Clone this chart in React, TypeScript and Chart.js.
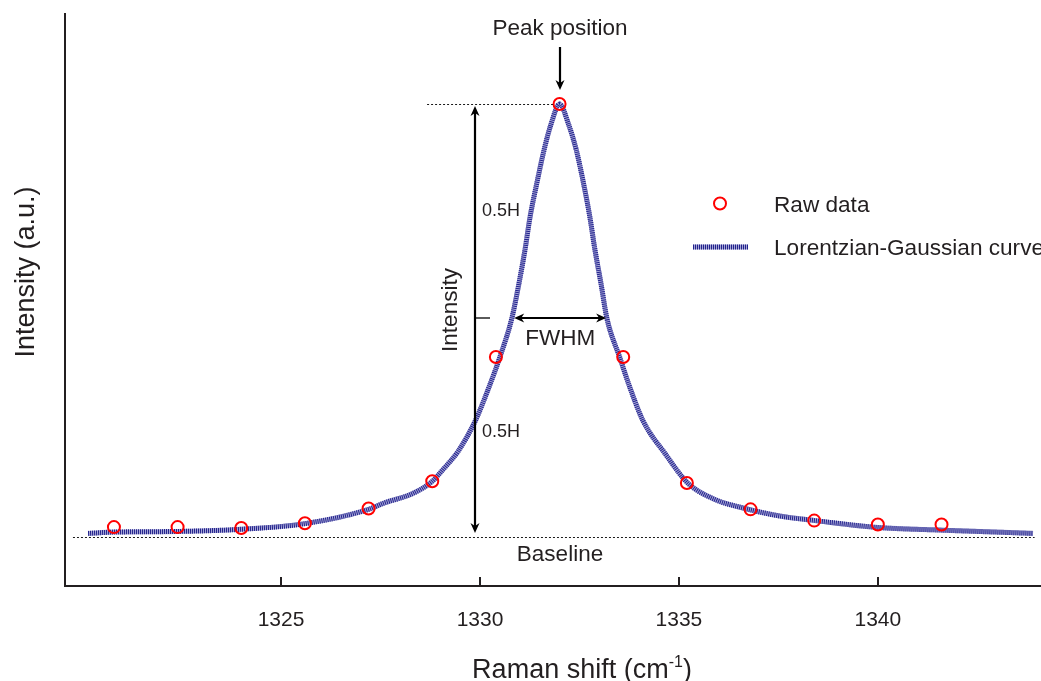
import React, { useEffect, useRef } from "react";
import { Chart, registerables } from "chart.js";

Chart.register(...registerables);

// ---- data ----
const rawX = [1320.8, 1322.4, 1324.0, 1325.6, 1327.2, 1328.8, 1330.4, 1332.0, 1333.6, 1335.2, 1336.8, 1338.4, 1340.0, 1341.6];
const rawY = [0.023, 0.023, 0.021, 0.032, 0.066, 0.129, 0.416, 1.0, 0.416, 0.125, 0.064, 0.038, 0.029, 0.029];

const curveX = [1320.15, 1320.8, 1322.4, 1324.0, 1325.6, 1327.2, 1327.57, 1328.32, 1328.79, 1329.08, 1329.45, 1329.87, 1330.25, 1330.49, 1330.8, 1330.98, 1331.13, 1331.26, 1331.43, 1331.61, 1331.79, 1332.0, 1332.22, 1332.42, 1332.6, 1332.76, 1332.89, 1333.04, 1333.19, 1333.52, 1333.75, 1334.1, 1334.65, 1335.23, 1335.95, 1336.49, 1337.54, 1338.43, 1340.02, 1341.62, 1343.9];
const curveY = [0.0085, 0.0115, 0.013, 0.018, 0.031, 0.064, 0.078, 0.101, 0.128, 0.157, 0.198, 0.266, 0.352, 0.413, 0.505, 0.586, 0.663, 0.74, 0.818, 0.894, 0.955, 1.0, 0.955, 0.894, 0.818, 0.74, 0.663, 0.586, 0.505, 0.413, 0.35, 0.268, 0.193, 0.124, 0.085, 0.07, 0.0485, 0.038, 0.022, 0.016, 0.0085];

const xTickValues = [1325, 1330, 1335, 1340];
const xTickLabels = ["1325", "1330", "1335", "1340"];

// annotation anchors (data units)
const peakX = 1332.0;
const peakY = 1.0;
const halfLevel = 0.505;
const fwhmLeftX = 1330.86;
const fwhmRightX = 1333.17;
const intensityArrowX = 1329.87;
const peakLineStartX = 1328.67;
const baselineStartX = 1319.77;
const baselineEndX = 1343.94;

const xMin = 1319.57;
const xMax = 1344.1;
const yMin = -0.113;
const yMax = 1.208;

const FONT = '"Liberation Sans", Arial, Helvetica, sans-serif';
const INK = "#231f20";
const CURVE_LIGHT = "#a6a6d6";
const CURVE_DARK = "#22228c";
const RAW_RED = "#ff0000";

function arrowHead(ctx: CanvasRenderingContext2D, tx: number, ty: number, angle: number) {
  const len = 10;
  const half = 4.5;
  ctx.save();
  ctx.translate(tx, ty);
  ctx.rotate(angle);
  ctx.beginPath();
  ctx.moveTo(0, 0);
  ctx.lineTo(-len, -half);
  ctx.lineTo(-len * 0.7, 0);
  ctx.lineTo(-len, half);
  ctx.closePath();
  ctx.fill();
  ctx.restore();
}

const annotPlugin = {
  id: "annot",
  afterDatasetsDraw(chart: any) {
    const { ctx, scales } = chart;
    const x = scales.x;
    const y = scales.y;
    ctx.save();

    // dotted lines
    ctx.strokeStyle = "#1a1a1a";
    ctx.lineWidth = 1;
    ctx.setLineDash([2, 2]);
    const yb = Math.round(y.getPixelForValue(0)) + 0.5;
    ctx.beginPath();
    ctx.moveTo(x.getPixelForValue(baselineStartX), yb);
    ctx.lineTo(x.getPixelForValue(baselineEndX), yb);
    ctx.stroke();
    const yp = Math.round(y.getPixelForValue(peakY)) + 0.5;
    ctx.beginPath();
    ctx.moveTo(x.getPixelForValue(peakLineStartX), yp);
    ctx.lineTo(x.getPixelForValue(peakX) - 5, yp);
    ctx.stroke();
    ctx.setLineDash([]);

    ctx.strokeStyle = "#000000";
    ctx.fillStyle = "#000000";
    ctx.lineWidth = 2.2;

    // peak arrow
    const px = Math.round(x.getPixelForValue(peakX));
    const pTip = y.getPixelForValue(peakY) - 14;
    ctx.beginPath();
    ctx.moveTo(px, 47);
    ctx.lineTo(px, pTip - 4);
    ctx.stroke();
    arrowHead(ctx, px, pTip, Math.PI / 2);

    // intensity double arrow
    const ix = Math.round(x.getPixelForValue(intensityArrowX));
    const iTop = y.getPixelForValue(peakY) + 2;
    const iBot = y.getPixelForValue(0) - 4;
    ctx.beginPath();
    ctx.moveTo(ix, iTop + 4);
    ctx.lineTo(ix, iBot - 4);
    ctx.stroke();
    arrowHead(ctx, ix, iTop, -Math.PI / 2);
    arrowHead(ctx, ix, iBot, Math.PI / 2);

    // half-level tick
    const hy = Math.round(y.getPixelForValue(halfLevel));
    ctx.lineWidth = 1.3;
    ctx.beginPath();
    ctx.moveTo(ix + 1, hy);
    ctx.lineTo(ix + 15, hy);
    ctx.stroke();

    // FWHM double arrow
    ctx.lineWidth = 2.2;
    const fl = x.getPixelForValue(fwhmLeftX);
    const fr = x.getPixelForValue(fwhmRightX);
    ctx.beginPath();
    ctx.moveTo(fl + 4, hy);
    ctx.lineTo(fr - 4, hy);
    ctx.stroke();
    arrowHead(ctx, fl, hy, Math.PI);
    arrowHead(ctx, fr, hy, 0);

    // inward x ticks
    ctx.strokeStyle = INK;
    ctx.lineWidth = 2;
    const ab = chart.chartArea.bottom;
    xTickValues.forEach((v) => {
      const tx = Math.round(x.getPixelForValue(v));
      ctx.beginPath();
      ctx.moveTo(tx, ab);
      ctx.lineTo(tx, ab - 9);
      ctx.stroke();
    });

    // texts
    ctx.fillStyle = INK;
    ctx.textBaseline = "alphabetic";
    ctx.font = `22.5px ${FONT}`;
    ctx.textAlign = "center";
    ctx.fillText("Peak position", px, 35);
    ctx.fillText("FWHM", (fl + fr) / 2, hy + 27);
    ctx.fillText("Baseline", px, yb + 23);

    ctx.font = `18px ${FONT}`;
    ctx.textAlign = "left";
    ctx.fillText("0.5H", ix + 7, 216);
    ctx.fillText("0.5H", ix + 7, 437);

    ctx.font = `22.5px ${FONT}`;
    ctx.save();
    ctx.translate(ix - 18, 310);
    ctx.rotate(-Math.PI / 2);
    ctx.textAlign = "center";
    ctx.fillText("Intensity", 0, 0);
    ctx.restore();

    // legend
    ctx.strokeStyle = RAW_RED;
    ctx.lineWidth = 2;
    ctx.beginPath();
    ctx.arc(720, 203.5, 6, 0, Math.PI * 2);
    ctx.stroke();
    ctx.lineWidth = 5;
    ctx.strokeStyle = CURVE_LIGHT;
    ctx.beginPath();
    ctx.moveTo(693, 247);
    ctx.lineTo(748, 247);
    ctx.stroke();
    ctx.strokeStyle = CURVE_DARK;
    ctx.setLineDash([1, 1]);
    ctx.beginPath();
    ctx.moveTo(693, 247);
    ctx.lineTo(748, 247);
    ctx.stroke();
    ctx.setLineDash([]);
    ctx.fillStyle = INK;
    ctx.font = `22.6px ${FONT}`;
    ctx.textAlign = "left";
    ctx.fillText("Raw data", 774, 212);
    ctx.fillText("Lorentzian-Gaussian curve", 774, 255);

    // axis titles
    ctx.font = `27px ${FONT}`;
    const main = "Raman shift (cm";
    const sup = "-1";
    const close = ")";
    const wMain = ctx.measureText(main).width;
    const wClose = ctx.measureText(close).width;
    ctx.font = `16px ${FONT}`;
    const wSup = ctx.measureText(sup).width;
    const total = wMain + wSup + wClose;
    let sx = 582 - total / 2;
    const by = 678;
    ctx.textAlign = "left";
    ctx.font = `27px ${FONT}`;
    ctx.fillText(main, sx, by);
    sx += wMain;
    ctx.font = `16px ${FONT}`;
    ctx.fillText(sup, sx, by - 11);
    sx += wSup;
    ctx.font = `27px ${FONT}`;
    ctx.fillText(close, sx, by);

    ctx.save();
    ctx.translate(34, 272);
    ctx.rotate(-Math.PI / 2);
    ctx.textAlign = "center";
    ctx.fillText("Intensity (a.u.)", 0, 0);
    ctx.restore();

    ctx.restore();
  },
};

export default function App() {
  const canvasRef = useRef<HTMLCanvasElement | null>(null);

  useEffect(() => {
    const canvas = canvasRef.current;
    if (!canvas) return;
    const curveData = curveX.map((v, i) => ({ x: v, y: curveY[i] }));
    const rawData = rawX.map((v, i) => ({ x: v, y: rawY[i] }));
    const chart = new Chart(canvas, {
      type: "scatter",
      data: {
        datasets: [
          {
            type: "line",
            label: "Lorentzian-Gaussian curve",
            data: curveData,
            borderColor: CURVE_LIGHT,
            borderWidth: 5,
            pointRadius: 0,
            cubicInterpolationMode: "monotone",
            fill: false,
            order: 3,
          } as any,
          {
            type: "line",
            label: "curve hatch",
            data: curveData,
            borderColor: CURVE_DARK,
            borderWidth: 5,
            borderDash: [1, 1],
            pointRadius: 0,
            cubicInterpolationMode: "monotone",
            fill: false,
            order: 2,
          } as any,
          {
            type: "scatter",
            label: "Raw data",
            data: rawData,
            pointStyle: "circle",
            pointRadius: 6,
            pointHoverRadius: 6,
            borderWidth: 2,
            borderColor: RAW_RED,
            backgroundColor: "rgba(0,0,0,0)",
            order: 1,
          } as any,
        ],
      },
      options: {
        responsive: false,
        animation: false,
        devicePixelRatio: 1,
        layout: { autoPadding: false, padding: { top: 14, right: 0, left: 0, bottom: 0 } },
        plugins: { legend: { display: false }, tooltip: { enabled: false } },
        scales: {
          x: {
            type: "linear",
            min: xMin,
            max: xMax,
            afterBuildTicks: (s: any) => {
              s.ticks = xTickValues.map((v) => ({ value: v }));
            },
            afterFit: (s: any) => {
              s.height = 95;
              s.paddingLeft = 0;
              s.paddingRight = 0;
            },
            grid: { display: false, drawTicks: false },
            border: { display: true, color: INK, width: 2 },
            ticks: {
              font: { family: FONT, size: 21 },
              color: INK,
              padding: 22,
              maxRotation: 0,
              autoSkip: false,
              callback: (v: any) => {
                const i = xTickValues.indexOf(Number(v));
                return i >= 0 ? xTickLabels[i] : "";
              },
            },
          },
          y: {
            type: "linear",
            min: yMin,
            max: yMax,
            afterFit: (s: any) => {
              s.width = 65;
              s.paddingTop = 0;
              s.paddingBottom = 0;
            },
            grid: { display: false, drawTicks: false },
            border: { display: true, color: INK, width: 2 },
            ticks: { display: false },
          },
        },
      } as any,
      plugins: [annotPlugin],
    });
    return () => chart.destroy();
  }, []);

  return (
    <div style={{ position: "absolute", left: 0, top: 0, width: 1041, height: 681, background: "#fff" }}>
      <canvas ref={canvasRef} width={1041} height={681} style={{ display: "block" }} />
    </div>
  );
}
